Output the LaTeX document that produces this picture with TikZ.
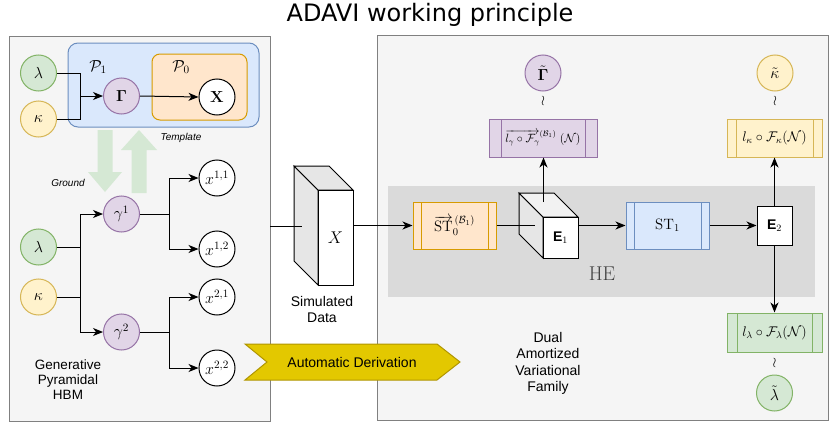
\RequirePackage{fix-cm}
\documentclass[tikz,border=0pt]{standalone}
\usepackage{amsmath}
\usepackage[no-math]{fontspec}
\setsansfont{Liberation Sans}
\newfontfamily\titlefont{DejaVu Sans}
\usetikzlibrary{arrows.meta,calc}
\definecolor{gfill}{HTML}{D5E8D4}\definecolor{gline}{HTML}{82B366}
\definecolor{yfill}{HTML}{FFF2CC}\definecolor{yline}{HTML}{D6B656}
\definecolor{pfill}{HTML}{E1D5E7}\definecolor{pline}{HTML}{9673A6}
\definecolor{bfill}{HTML}{DAE8FC}\definecolor{bline}{HTML}{6C8EBF}
\definecolor{ofill}{HTML}{FFE6CC}\definecolor{oline}{HTML}{D79B00}
\definecolor{panfill}{HTML}{F5F5F5}\definecolor{panline}{HTML}{808080}
\definecolor{hefill}{HTML}{DADADA}
\definecolor{adfill}{HTML}{E3C800}\definecolor{adline}{HTML}{B09500}
\definecolor{sidefill}{HTML}{E6E6E6}\definecolor{topfill}{HTML}{F2F2F2}
\newcommand{\fsz}{\fontsize{14}{16}\selectfont}
\newcommand{\csz}{\fontsize{16}{18}\selectfont}
\begin{document}
\begin{tikzpicture}[x=1pt,y=-1pt,
  circ/.style={circle, draw, minimum size=36pt, inner sep=0pt, line width=1pt, font=\csz},
  gcirc/.style={circ, fill=gfill, draw=gline},
  ycirc/.style={circ, fill=yfill, draw=yline},
  pcirc/.style={circ, fill=pfill, draw=pline},
  wcirc/.style={circ, fill=white, draw=black},
  proc/.style n args={4}{rectangle, draw=#1, fill=#2, line width=1pt, minimum width=#3pt, minimum height=38pt, inner sep=0pt, font=\fsz,
    path picture={\draw[#1, line width=1pt] ([xshift=#4pt]path picture bounding box.north west) -- ([xshift=#4pt]path picture bounding box.south west);
      \draw[#1, line width=1pt] ([xshift=-#4pt]path picture bounding box.north east) -- ([xshift=-#4pt]path picture bounding box.south east);}},
  arr/.style={-{Stealth[length=10pt,width=8pt,inset=3pt]}, line width=1pt},
  ln/.style={line width=1pt},
  panel/.style={rectangle, draw=panline, fill=panfill, line width=1pt},
  sflabel/.style={font=\sffamily\fontsize{14}{16.5}\selectfont, align=center},
  tilde/.style={font=\fsz, inner sep=0pt}
]
\useasboundingbox (0,0) rectangle (831,423);
% title
\node[font=\titlefont\fontsize{24}{27}\selectfont] (title) at (430,15) {ADAVI working principle};
% panels
\node[panel, minimum width=261pt, minimum height=385pt] (lpanel) at (139.5,228.5) {};
\node[panel, minimum width=451pt, minimum height=385pt] (rpanel) at (602.5,227.5) {};
% template
\node[rectangle, rounded corners=10pt, draw=bline, fill=bfill, line width=1pt, minimum width=191pt, minimum height=84pt] (p1box) at (163.5,85) {};
\node[rectangle, rounded corners=8pt, draw=oline, fill=ofill, line width=1pt, minimum width=95pt, minimum height=66pt] (p0box) at (199.5,87) {};
\node[font=\csz] (p1lab) at (98,67) {$\mathcal{P}_1$};
\node[font=\csz] (p0lab) at (181,67) {$\mathcal{P}_0$};
\node[gcirc] (l0) at (38.5,73) {$\lambda$};
\node[ycirc] (k0) at (38.5,119) {$\kappa$};
\node[pcirc] (G0) at (121.5,96) {$\mathbf{\Gamma}$};
\node[wcirc] (X0) at (217,97) {$\mathbf{X}$};
\coordinate (j0) at (80,96);
\draw[ln] (l0.east) -| (j0);
\draw[ln] (k0.east) -| (j0);
\draw[arr] (j0) -- (G0.west);
\draw[arr] (G0.east) -- (X0.west);
% ground/template arrows
\fill[gfill] (97.5,130) -- (112.5,130) -- (112.5,172) -- (122,172) -- (105,192) -- (88,172) -- (97.5,172) -- cycle;
\fill[gfill] (131.5,193) -- (146.5,193) -- (146.5,150) -- (157,150) -- (139,130) -- (121,150) -- (131.5,150) -- cycle;
\node[font=\sffamily\itshape\fontsize{10}{12}\selectfont] (tpl) at (181,138) {Template};
\node[font=\sffamily\itshape\fontsize{10}{12}\selectfont] (gnd) at (68,183) {Ground};
% grounded HBM
\node[gcirc] (l1) at (38.5,247) {$\lambda$};
\node[ycirc] (k1) at (38.5,297) {$\kappa$};
\node[pcirc] (g1) at (121.5,214) {$\gamma^1$};
\node[pcirc] (g2) at (121.5,332) {$\gamma^2$};
\node[wcirc] (x11) at (217,178) {$x^{1,1}$};
\node[wcirc] (x12) at (217,249) {$x^{1,2}$};
\node[wcirc] (x21) at (217,297) {$x^{2,1}$};
\node[wcirc] (x22) at (217,368) {$x^{2,2}$};
\coordinate (ja) at (80,214);
\coordinate (jb) at (80,332);
\draw[arr] (l1.east) -- (l1.east -| ja) |- (g1.west);
\draw[arr] (l1.east -| ja) |- (g2.west);
\draw[ln] (k1.east) -- (k1.east -| ja);
\coordinate (b1) at (169,214);
\coordinate (b2) at (169,332);
\draw[arr] (g1.east) -- (b1) |- (x11.west);
\draw[arr] (b1) |- (x12.west);
\draw[arr] (g2.east) -- (b2) |- (x21.west);
\draw[arr] (b2) |- (x22.west);
\node[sflabel, font=\sffamily\fontsize{13.5}{15}\selectfont] (gen) at (68,380) {Generative\\Pyramidal\\HBM};
% simulated data cube
\filldraw[fill=sidefill, draw=black, line width=1pt] (318,190) -- (294,166) -- (294,261) -- (318,285) -- cycle;
\filldraw[fill=sidefill, draw=black, line width=1pt] (318,190) -- (294,166) -- (329,166) -- (353,190) -- cycle;
\node[rectangle, draw, fill=white, line width=1pt, minimum width=35pt, minimum height=95pt, font=\fontsize{17}{19}\selectfont] (xf) at (335.5,237.5) {$X$};
\coordinate (lpout) at (270,226);
\coordinate (xin) at (302,226);
\draw[ln] (lpout) -- (xin);
\node[sflabel] (sim) at (322,309.5) {Simulated\\Data};
% automatic derivation
\filldraw[fill=adfill, draw=adline, line width=1pt] (245,344) -- (437,344) -- (460,362) -- (437,380) -- (245,380) -- (267,362) -- cycle;
\node[sflabel] (ad) at (352,362) {Automatic Derivation};
% HE region
\fill[hefill] (388,186) rectangle (815,297);
\node[font=\fontsize{20}{22}\selectfont, text=black!75] (he) at (602,274) {HE};
\node[proc={oline}{ofill}{83}{8}, minimum height=47pt, font=\fontsize{15}{17}\selectfont] (st0) at (454.5,225.5) {$\overrightarrow{\mathrm{ST}}_0^{\,(\mathcal{B}_1)}$};
\node[proc={bline}{bfill}{83}{8}, minimum height=47pt, font=\fontsize{15}{17}\selectfont] (st1) at (667.5,225.5) {$\mathrm{ST}_1$};
% E1 cube
\filldraw[fill=sidefill, draw=black, line width=1pt] (543,217) -- (519,193) -- (519,234) -- (543,258) -- cycle;
\filldraw[fill=topfill, draw=black, line width=1pt] (543,217) -- (519,193) -- (554,193) -- (578,217) -- cycle;
\node[rectangle, draw, fill=white, line width=1pt, minimum width=35pt, minimum height=41pt, font=\fsz] (e1) at (560.5,237.5) {\textsf{\textbf{E}}$_1$};
\node[rectangle, draw, fill=white, line width=1pt, minimum width=35pt, minimum height=39pt, font=\fsz] (e2) at (774.5,225.5) {\textsf{\textbf{E}}$_2$};
\draw[arr] (xf.east |- st0.west) -- (st0.west);
\coordinate (e1in) at (535,225.5);
\draw[ln] (st0.east) -- (e1in);
\draw[arr] (e1.east |- st1.west) -- (st1.west);
\draw[arr] (st1.east) -- (e2.west);
% outputs
\node[proc={pline}{pfill}{108}{12}, font=\fontsize{12}{14}\selectfont] (pbox) at (543,138) {$\overrightarrow{l_\gamma\circ\mathcal{F}_\gamma}^{\raisebox{2pt}{$\scriptstyle(\mathcal{B}_1)$}}\;(\mathcal{N})$};
\node[proc={yline}{yfill}{95}{9}] (ybox) at (774.5,138) {$l_\kappa\circ\mathcal{F}_\kappa(\mathcal{N})$};
\node[proc={gline}{gfill}{95}{10}, minimum height=39pt] (gbox) at (774.5,332.5) {$l_\lambda\circ\mathcal{F}_\lambda(\mathcal{N})$};
\coordinate (e1up) at (543.5,202);
\draw[arr] (e1up) -- (pbox.south -| e1up);
\draw[arr] (e2.north) -- (ybox.south);
\draw[arr] (e2.south) -- (gbox.north);
\node[pcirc] (Gt) at (543,73) {$\tilde{\mathbf{\Gamma}}$};
\node[ycirc] (kt) at (775,73) {$\tilde{\kappa}$};
\node[gcirc] (lt) at (774.5,393) {$\tilde{\lambda}$};
\node[tilde] (w1) at (543,101) {$\wr$};
\node[tilde] (w2) at (775,101) {$\wr$};
\node[tilde] (w3) at (774.5,363) {$\wr$};
\node[sflabel] (dual) at (548,363.5) {Dual\\Amortized\\Variational\\Family};
\end{tikzpicture}
\end{document}
